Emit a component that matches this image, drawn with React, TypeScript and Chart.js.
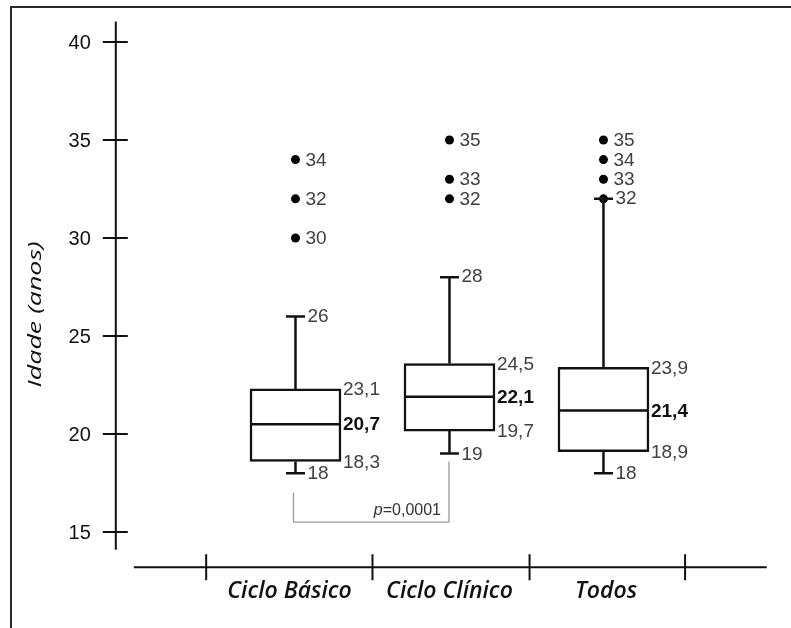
import React, { useEffect, useRef } from "react";
import { Chart, registerables } from "chart.js";

Chart.register(...registerables);

// ---- data ----
const categories = ["Ciclo Básico", "Ciclo Clínico", "Todos"];
const whiskerLow = [18, 19, 18];
const q1 = [18.6, 20.15, 19.1];
const median = [20.5, 21.9, 21.2];
const q3 = [22.3, 23.6, 23.4];
const whiskerHigh = [26, 28, 32];
const outliers = [
  [30, 32, 34],
  [32, 33, 35],
  [32, 33, 34, 35],
];
const q1Labels = ["18,3", "19,7", "18,9"];
const medianLabels = ["20,7", "22,1", "21,4"];
const q3Labels = ["23,1", "24,5", "23,9"];
const yTicks = [15, 20, 25, 30, 35, 40];
const yTitle = "Idade (anos)";
const pValueText = "=0,0001";

const SANS = '"Liberation Sans", Arial, sans-serif';
const ITAL = '"Open Sans", "Noto Sans", sans-serif';

const extrasPlugin = {
  id: "boxExtras",
  beforeDraw(chart: any) {
    const { ctx } = chart;
    ctx.save();
    ctx.fillStyle = "#fff";
    ctx.fillRect(0, 0, chart.width, chart.height);
    // figure frame (top and left edges)
    ctx.strokeStyle = "#2a2a2a";
    ctx.lineWidth = 2;
    ctx.beginPath();
    ctx.moveTo(11, chart.height);
    ctx.lineTo(11, 7);
    ctx.lineTo(chart.width, 7);
    ctx.stroke();
    ctx.restore();
  },
  afterDatasetsDraw(chart: any) {
    const { ctx, scales, chartArea } = chart;
    const x = scales.x;
    const y = scales.y;
    const X = (v: number) => x.getPixelForValue(v);
    const Y = (v: number) => y.getPixelForValue(v);
    const ink = "#111";
    ctx.save();
    ctx.lineCap = "butt";

    // ---- whiskers, medians ----
    categories.forEach((_, i) => {
      const cx = X(i + 1);
      const halfBox = 44.5;
      ctx.strokeStyle = ink;
      ctx.lineWidth = 2.5;
      ctx.beginPath();
      // upper whisker
      ctx.moveTo(cx, Y(q3[i]));
      ctx.lineTo(cx, Y(whiskerHigh[i]));
      ctx.moveTo(cx - 9.5, Y(whiskerHigh[i]));
      ctx.lineTo(cx + 9.5, Y(whiskerHigh[i]));
      // lower whisker
      ctx.moveTo(cx, Y(q1[i]));
      ctx.lineTo(cx, Y(whiskerLow[i]));
      ctx.moveTo(cx - 9.5, Y(whiskerLow[i]));
      ctx.lineTo(cx + 9.5, Y(whiskerLow[i]));
      // median
      ctx.moveTo(cx - halfBox, Y(median[i]));
      ctx.lineTo(cx + halfBox, Y(median[i]));
      ctx.stroke();

      // labels
      ctx.textBaseline = "middle";
      ctx.textAlign = "left";
      ctx.fillStyle = "#404040";
      ctx.font = `19px ${SANS}`;
      ctx.fillText(q3Labels[i], cx + halfBox + 3, Y(q3[i]) + 1);
      ctx.fillText(q1Labels[i], cx + halfBox + 3, Y(q1[i]) + 1);
      ctx.fillText(String(whiskerLow[i]), cx + 12, Y(whiskerLow[i]) + 1);
      ctx.fillText(String(whiskerHigh[i]), cx + 12, Y(whiskerHigh[i]));
      outliers[i].forEach((v) => {
        if (v === whiskerHigh[i]) return;
        ctx.fillText(String(v), cx + 10, Y(v) + 1);
      });
      ctx.fillStyle = "#111";
      ctx.font = `bold 19px ${SANS}`;
      ctx.fillText(medianLabels[i], cx + halfBox + 3, Y(median[i]) + 1);
    });

    // ---- y axis (detached) ----
    const axX = chartArea.left - 18;
    ctx.strokeStyle = ink;
    ctx.lineWidth = 2;
    ctx.beginPath();
    ctx.moveTo(axX, Y(41.05));
    ctx.lineTo(axX, Y(14.1));
    yTicks.forEach((t) => {
      ctx.moveTo(axX - 13, Y(t));
      ctx.lineTo(axX + 12, Y(t));
    });
    ctx.stroke();
    ctx.fillStyle = "#111";
    ctx.font = `20px ${SANS}`;
    ctx.textAlign = "right";
    ctx.textBaseline = "middle";
    yTicks.forEach((t) => ctx.fillText(String(t), axX - 25, Y(t) + 1));

    // y title (stretched along its length to match reference)
    ctx.save();
    ctx.font = `italic 19px ${ITAL}`;
    const tw = ctx.measureText(yTitle).width;
    ctx.translate(36, Y(26.1));
    ctx.rotate(-Math.PI / 2);
    ctx.scale(146 / tw, 1);
    ctx.textAlign = "center";
    ctx.textBaseline = "middle";
    ctx.fillStyle = "#111";
    ctx.fillText(yTitle, 0, 0);
    ctx.restore();

    // ---- x axis ----
    const axY = chartArea.bottom;
    ctx.beginPath();
    ctx.strokeStyle = ink;
    ctx.lineWidth = 2;
    ctx.moveTo(chartArea.left, axY);
    ctx.lineTo(chartArea.right, axY);
    [0.42, 1.5, 2.52, 3.53].forEach((t) => {
      ctx.moveTo(X(t), axY - 13);
      ctx.lineTo(X(t), axY + 13);
    });
    ctx.stroke();
    ctx.fillStyle = "#111";
    ctx.font = `italic 600 23px ${ITAL}`;
    ctx.textAlign = "center";
    ctx.textBaseline = "middle";
    const shift = [-6, 0, 2.5];
    categories.forEach((c, i) => ctx.fillText(c, X(i + 1) + shift[i], axY + 24));

    // ---- p-value bracket ----
    const lx = X(1) - 2;
    const rx = X(2) - 0.5;
    const by = Y(15.5);
    ctx.strokeStyle = "#9a9a9a";
    ctx.lineWidth = 1.3;
    ctx.beginPath();
    ctx.moveTo(lx, Y(17));
    ctx.lineTo(lx, by);
    ctx.lineTo(rx, by);
    ctx.lineTo(rx, Y(18.6));
    ctx.stroke();
    ctx.font = `16px ${SANS}`;
    ctx.fillStyle = "#333";
    ctx.textBaseline = "middle";
    ctx.textAlign = "left";
    const restW = ctx.measureText(pValueText).width;
    ctx.font = `italic 16px ${SANS}`;
    const pW = ctx.measureText("p").width;
    const endX = rx - 8;
    const startX = endX - restW - pW;
    ctx.fillText("p", startX, by - 12);
    ctx.font = `16px ${SANS}`;
    ctx.fillText(pValueText, startX + pW, by - 12);

    ctx.restore();
  },
};

export default function App() {
  const ref = useRef<HTMLCanvasElement | null>(null);
  useEffect(() => {
    if (!ref.current) return;
    const boxData = categories.map((_, i) => ({ x: i + 1, y: [q1[i], q3[i]] }));
    const outlierData: { x: number; y: number }[] = [];
    outliers.forEach((arr, i) => arr.forEach((v) => outlierData.push({ x: i + 1, y: v })));
    const chart = new Chart(ref.current, {
      type: "bar",
      data: {
        datasets: [
          {
            type: "bar",
            label: "box",
            data: boxData as any,
            backgroundColor: "#ffffff",
            borderColor: "#111",
            borderWidth: 2.5,
            borderSkipped: false,
            barThickness: 91,
          } as any,
          {
            type: "scatter",
            label: "outliers",
            data: outlierData,
            backgroundColor: "#000",
            borderWidth: 0,
            pointRadius: 4.5,
          } as any,
        ],
      },
      options: {
        responsive: false,
        animation: false,
        devicePixelRatio: 1,
        layout: { padding: { left: 133.8, right: 24.3, top: 18.5, bottom: 60.7 } },
        plugins: { legend: { display: false }, tooltip: { enabled: false } },
        scales: {
          x: { type: "linear", min: -0.05, max: 4.06, offset: false, display: false },
          y: { type: "linear", min: 13.2, max: 41.2, display: false },
        },
      },
      plugins: [extrasPlugin],
    });
    return () => chart.destroy();
  }, []);
  return (
    <div style={{ position: "fixed", left: 0, top: 0, width: 791, height: 628, background: "#fff" }}>
      <canvas ref={ref} width={791} height={628} style={{ display: "block" }} />
    </div>
  );
}
